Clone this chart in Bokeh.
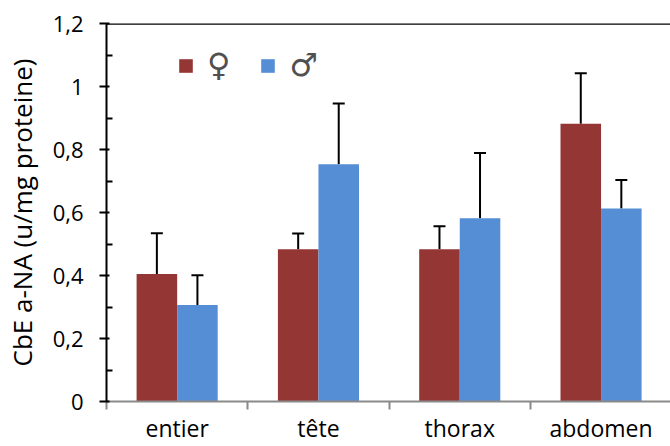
from bokeh.plotting import figure
from bokeh.models import (ColumnDataSource, Range1d, FixedTicker, Span, Whisker,
                          TeeHead, Legend, LegendItem)
from bokeh.embed import file_html
from bokeh.resources import INLINE

categories = ["entier", "tête", "thorax", "abdomen"]
female = [0.405, 0.483, 0.483, 0.882]
male = [0.306, 0.753, 0.582, 0.613]
female_err = [0.129, 0.050, 0.073, 0.160]
male_err = [0.095, 0.193, 0.207, 0.090]
y_ticks = [0, 0.2, 0.4, 0.6, 0.8, 1.0, 1.2]
y_tick_labels = ["0", "0,2", "0,4", "0,6", "0,8", "1", "1,2"]
legend_labels = ["♀", "♂"]

RED = "#943634"
BLUE = "#558ED5"
BAR_W = 0.287
OFF = BAR_W / 2

centers = [i + 0.5 for i in range(len(categories))]
bounds = list(range(len(categories) + 1))
src_f = ColumnDataSource(dict(
    x=[c - OFF for c in centers], top=female,
    up=[v + e for v, e in zip(female, female_err)]))
src_m = ColumnDataSource(dict(
    x=[c + OFF for c in centers], top=male,
    up=[v + e for v, e in zip(male, male_err)]))

p = figure(width=670, height=446, output_backend="svg", toolbar_location=None,
           x_range=Range1d(0, 564 / 141.3), y_range=Range1d(0, 1.2))
p.min_border_left = 106
p.min_border_right = 0
p.min_border_top = 23
p.min_border_bottom = 44
p.outline_line_color = None
p.xgrid.visible = False
p.ygrid.visible = False
p.background_fill_color = "white"
p.border_fill_color = "white"

rf = p.vbar(x="x", top="top", width=BAR_W, bottom=0, source=src_f,
            fill_color=RED, line_color=None)
rm = p.vbar(x="x", top="top", width=BAR_W, bottom=0, source=src_m,
            fill_color=BLUE, line_color=None)

for src in (src_f, src_m):
    w = Whisker(base="x", lower="top", upper="up", source=src,
                dimension="height", line_color="black", line_width=2,
                lower_head=None,
                upper_head=TeeHead(size=12, line_color="black", line_width=2))
    p.add_layout(w)

p.add_layout(Span(location=1.2, dimension="width", line_color="black",
                  line_width=2.5))

# y axis
ya = p.yaxis[0]
ya.ticker = FixedTicker(ticks=y_ticks,
                        minor_ticks=[0.1, 0.3, 0.5, 0.7, 0.9, 1.1])
ya.major_label_overrides = {t: l for t, l in zip(y_ticks, y_tick_labels)}
ya.axis_line_color = "black"
ya.axis_line_width = 2
ya.major_tick_line_color = "black"
ya.major_tick_line_width = 2
ya.major_tick_out = 7
ya.major_tick_in = 3
ya.minor_tick_line_color = "black"
ya.minor_tick_line_width = 2
ya.minor_tick_in = 6
ya.minor_tick_out = 0
ya.major_label_text_font = "Open Sans"
ya.major_label_text_font_size = "22px"
ya.major_label_text_color = "black"
ya.major_label_standoff = 16
ya.axis_label = "CbE a-NA (u/mg proteine)"
ya.axis_label_text_font = "Open Sans"
ya.axis_label_text_font_size = "26px"
ya.axis_label_text_font_style = "normal"
ya.axis_label_text_color = "black"
ya.axis_label_standoff = 10

# x axis: labels at category centres, ticks at category boundaries
xa = p.xaxis[0]
xa.ticker = FixedTicker(ticks=centers, minor_ticks=bounds)
xa.major_label_overrides = {c: n for c, n in zip(centers, categories)}
xa.axis_line_color = "#8a8a8a"
xa.axis_line_width = 2
xa.major_tick_line_color = None
xa.major_tick_out = 0
xa.major_tick_in = 0
xa.minor_tick_line_color = "#8a8a8a"
xa.minor_tick_line_width = 2
xa.minor_tick_out = 8
xa.minor_tick_in = 0
xa.major_label_text_font = "Open Sans"
xa.major_label_text_font_size = "23px"
xa.major_label_text_color = "black"
xa.major_label_standoff = 2

legend = Legend(items=[LegendItem(label=legend_labels[0], renderers=[rf]),
                       LegendItem(label=legend_labels[1], renderers=[rm])],
                orientation="horizontal", location=(71, 317))
legend.glyph_width = 17
legend.glyph_height = 17
legend.label_standoff = 13
legend.spacing = 29
legend.padding = 0
legend.margin = 0
legend.border_line_color = None
legend.background_fill_alpha = 0
legend.label_text_font = "DejaVu Sans"
legend.label_text_font_size = "32px"
legend.label_text_color = "#505050"
p.add_layout(legend)

open("out.html", "w").write(file_html(p, INLINE))
